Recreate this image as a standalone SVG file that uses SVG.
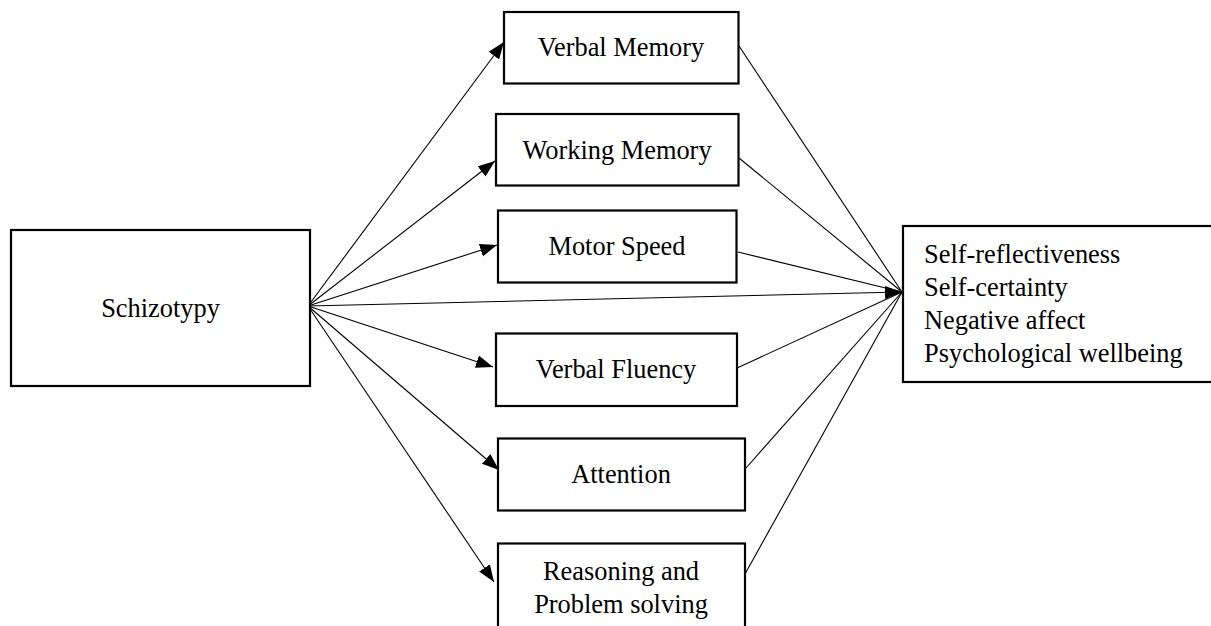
<svg xmlns="http://www.w3.org/2000/svg" width="1211" height="626" viewBox="0 0 1211 626">
<style>
.box{fill:#fff;stroke:#000;stroke-width:2.2}
.t{font-family:"Liberation Serif","Times New Roman",serif;font-size:26.4px;fill:#000}
.c{text-anchor:middle}
.ln{stroke:#000;stroke-width:1.1;fill:none}
</style>
<defs>
<marker id="ah" markerUnits="userSpaceOnUse" markerWidth="18" markerHeight="14" refX="17" refY="6.5" orient="auto">
<path d="M0,0 L17,6.5 L0,13 z" fill="#000"/>
</marker>
</defs>
<rect width="1211" height="626" fill="#fff"/>
<g id="connectors">
<line class="ln" x1="308" y1="306" x2="504" y2="42" marker-end="url(#ah)"/>
<line class="ln" x1="308" y1="306" x2="495" y2="161" marker-end="url(#ah)"/>
<line class="ln" x1="308" y1="306" x2="497" y2="245" marker-end="url(#ah)"/>
<line class="ln" x1="308" y1="306" x2="902" y2="292" marker-end="url(#ah)"/>
<line class="ln" x1="308" y1="306" x2="493" y2="367" marker-end="url(#ah)"/>
<line class="ln" x1="308" y1="306" x2="499" y2="470" marker-end="url(#ah)"/>
<line class="ln" x1="308" y1="306" x2="494" y2="582" marker-end="url(#ah)"/>
<line class="ln" x1="739" y1="46" x2="902" y2="292"/>
<line class="ln" x1="739" y1="158" x2="902" y2="292"/>
<line class="ln" x1="738" y1="252" x2="902" y2="292"/>
<line class="ln" x1="737" y1="368" x2="902" y2="292"/>
<line class="ln" x1="746" y1="468" x2="902" y2="292"/>
<line class="ln" x1="745" y1="574" x2="902" y2="292"/>
</g>
<g id="schizotypy">
<rect class="box" x="11" y="230" width="299" height="156"/>
<text class="t c" x="160.5" y="317">Schizotypy</text>
</g>
<g id="verbal-memory">
<rect class="box" x="504" y="12" width="234.5" height="71.5"/>
<text class="t c" x="621" y="56">Verbal Memory</text>
</g>
<g id="working-memory">
<rect class="box" x="496" y="114" width="242.5" height="71.5"/>
<text class="t c" x="617" y="158.5">Working Memory</text>
</g>
<g id="motor-speed">
<rect class="box" x="498" y="210.5" width="238.5" height="72"/>
<text class="t c" x="617" y="255">Motor Speed</text>
</g>
<g id="verbal-fluency">
<rect class="box" x="496" y="333.5" width="241" height="72.5"/>
<text class="t c" x="616" y="377.5">Verbal Fluency</text>
</g>
<g id="attention">
<rect class="box" x="498" y="438.5" width="247" height="72"/>
<text class="t c" x="621" y="482.5">Attention</text>
</g>
<g id="reasoning">
<rect class="box" x="498" y="543.5" width="247" height="100"/>
<text class="t c" x="621" y="579.5">Reasoning and</text>
<text class="t c" x="621" y="612.5">Problem solving</text>
</g>
<g id="outcomes">
<rect class="box" x="903" y="226" width="320" height="156"/>
<text class="t" x="924" y="262.5">Self-reflectiveness</text>
<text class="t" x="924" y="295.5">Self-certainty</text>
<text class="t" x="924" y="328.5">Negative affect</text>
<text class="t" x="924" y="361.5">Psychological wellbeing</text>
</g>
</svg>
